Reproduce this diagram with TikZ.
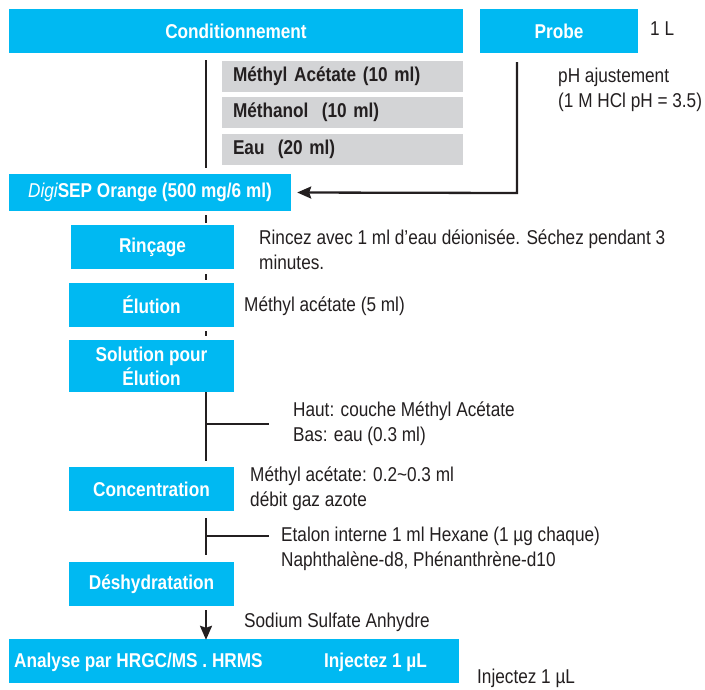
\documentclass[tikz,border=0pt]{standalone}
\usepackage{fontspec}
\setmainfont{Liberation Sans}[FakeStretch=0.86]
\usetikzlibrary{arrows.meta}
\definecolor{cyanbox}{HTML}{00B9F2}
\definecolor{graybox}{HTML}{D3D4D6}
\definecolor{ink}{HTML}{231F20}
\begin{document}
\begin{tikzpicture}[x=1pt,y=-1pt,
  every node/.style={font=\fontsize{20}{25}\selectfont, text=ink, inner sep=0pt},
  bluebox/.style={fill=cyanbox, text=white, font=\fontsize{20}{24}\selectfont\bfseries, align=center, minimum height=44pt},
  greybox/.style={fill=graybox, text=ink, font=\fontsize{20}{24}\selectfont\bfseries, minimum width=241pt, minimum height=31pt, text width=219pt, align=left},
  note/.style={anchor=west, align=left, text=ink},
  conn/.style={draw=ink, line width=2.3pt},
  arr/.style={conn, -{Stealth[length=14pt,width=12pt,inset=2pt]}}
]
\useasboundingbox (0,0) rectangle (705,689);

% top row
\node[bluebox, minimum width=454pt] (cond) at (236,31) {Conditionnement};
\node[bluebox, minimum width=158pt] (probe) at (559,31) {Probe};
\node[note] (oneL) at (650,29) {1 L};

% grey reagent boxes
\node[greybox] (g1) at (342.5,76.5) {Méthyl Acétate (10 ml)};
\node[greybox] (g2) at (342.5,112.5) {Méthanol\ \ (10 ml)};
\node[greybox] (g3) at (342.5,149.5) {Eau\ \ (20 ml)};
\coordinate (c1a) at (206,60);
\coordinate (c1b) at (206,168);
\draw[conn] (c1a) -- (c1b);

% pH branch
\node[note] (ph) at (558,90) {pH ajustement\\(1 M HCl pH = 3.5)};

% DigiSEP
\node[bluebox, minimum width=282pt, minimum height=37pt] (digi) at (150,192.5) {{\mdseries\itshape Digi}SEP Orange (500 mg/6 ml)};
\coordinate (phtop) at (517,62);
\coordinate (phcorner) at (517,193);
\draw[arr] (phtop) -- (phcorner) -- ([xshift=6pt]digi.east);

% steps
\node[bluebox, minimum width=163pt] (rin) at (152.5,247) {Rinçage};
\node[bluebox, minimum width=165pt] (elu) at (151.5,305) {Élution};
\node[bluebox, minimum width=165pt, minimum height=52pt] (sol) at (151.5,366) {Solution pour\\Élution};
\node[bluebox, minimum width=165pt] (conc) at (151.5,489) {Concentration};
\node[bluebox, minimum width=165pt] (desh) at (151.5,584) {Déshydratation};
\node[bluebox, minimum width=450pt] (ana) at (234,661) {};
\node[anchor=west, text=white, font=\fontsize{20}{24}\selectfont\bfseries] (anat) at (14,662) {Analyse par HRGC/MS . HRMS};
\node[anchor=west, text=white, font=\fontsize{20}{24}\selectfont\bfseries] (anai) at (324,662) {Injectez 1 µL};

% short connectors
\coordinate (d1a) at (206,215); \coordinate (d1b) at (206,223);
\coordinate (d2a) at (206,274); \coordinate (d2b) at (206,280);
\coordinate (d3a) at (206,331); \coordinate (d3b) at (206,336);
\draw[conn] (d1a) -- (d1b);
\draw[conn] (d2a) -- (d2b);
\draw[conn] (d3a) -- (d3b);

% solution -> concentration with branch
\coordinate (s1) at (206,392);
\coordinate (s2) at (206,461);
\coordinate (sb1) at (206,424);
\coordinate (sb2) at (269,424);
\draw[conn] (s1) -- (s2);
\draw[conn] (sb1) -- (sb2);

% concentration -> deshydratation with branch
\coordinate (t1) at (206,518);
\coordinate (t2) at (206,555);
\coordinate (tb1) at (206,536);
\coordinate (tb2) at (269,536);
\draw[conn] (t1) -- (t2);
\draw[conn] (tb1) -- (tb2);

% arrow to analysis
\coordinate (a1) at (206,610);
\draw[arr] (a1) -- ([yshift=-1pt]ana.north -| a1);

% notes
\node[note] (n1) at (259,249.5) {Rincez avec 1 ml d’eau déionisée. Séchez pendant 3\\minutes.};
\node[note] (n2) at (244,306) {Méthyl acétate (5 ml)};
\node[note] (n3) at (293,423.5) {Haut: couche Méthyl Acétate\\Bas: eau (0.3 ml)};
\node[note] (n4) at (250,488.5) {Méthyl acétate: 0.2\textasciitilde 0.3 ml\\débit gaz azote};
\node[note] (n5) at (281,549) {Etalon interne 1 ml Hexane (1 µg chaque)\\Naphthalène-d8, Phénanthrène-d10};
\node[note] (n6) at (244,622) {Sodium Sulfate Anhydre};
\node[note] (n7) at (477,678) {Injectez 1 µL};
\end{tikzpicture}
\end{document}
